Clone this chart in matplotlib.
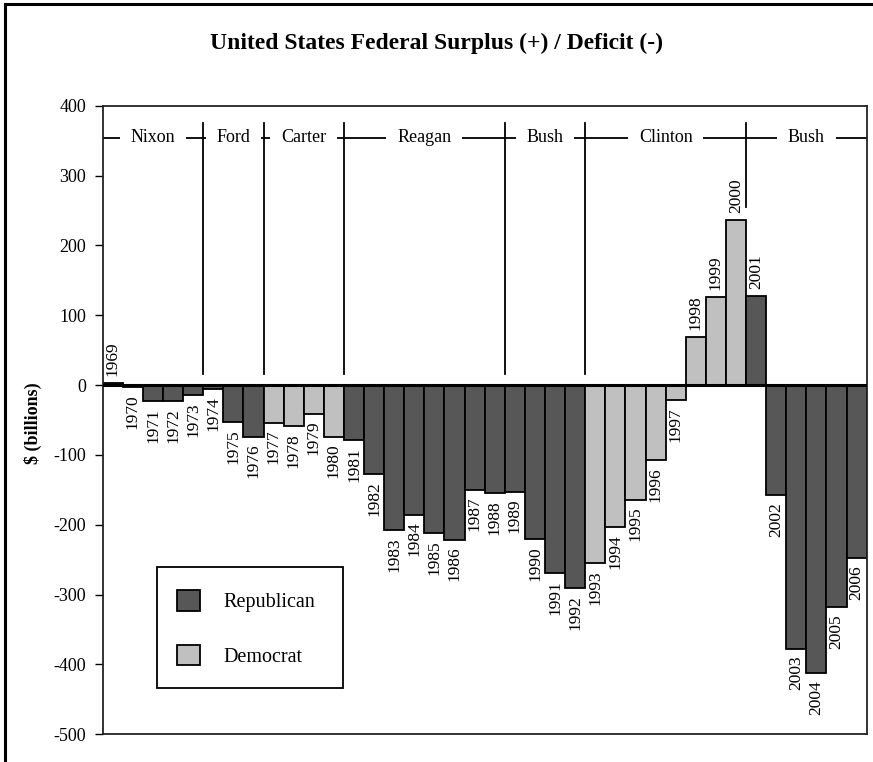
import matplotlib
matplotlib.use("Agg")
import matplotlib.pyplot as plt
from matplotlib.patches import Patch, Rectangle
from matplotlib.lines import Line2D

plt.rcParams["font.family"] = ["Liberation Serif", "DejaVu Serif"]
plt.rcParams["axes.unicode_minus"] = False

# Federal budget balance by fiscal year, billions of dollars
years = list(range(1969, 2007))
balance = [3.2, -2.8, -23.0, -23.4, -14.9, -6.1, -53.2, -73.7, -53.7, -59.2,
           -40.7, -73.8, -79.0, -128.0, -207.8, -185.4, -212.3, -221.2, -149.7,
           -155.2, -152.6, -221.0, -269.2, -290.3, -255.1, -203.2, -164.0,
           -107.4, -21.9, 69.3, 125.6, 236.2, 128.2, -157.8, -377.6, -412.7,
           -318.3, -248.2]
party = (["R"] * 8 + ["D"] * 4 + ["R"] * 12 + ["D"] * 8 + ["R"] * 6)

# Presidential terms: name, first and last fiscal year attributed
presidents = ["Nixon", "Ford", "Carter", "Reagan", "Bush", "Clinton", "Bush"]
term_start = [1969, 1974, 1977, 1981, 1989, 1993, 2001]
term_end = [1973, 1976, 1980, 1988, 1992, 2000, 2006]

party_colors = {"R": "#575757", "D": "#c0c0c0"}
party_names = {"R": "Republican", "D": "Democrat"}

W, H = 873, 762
fig = plt.figure(figsize=(W / 100, H / 100), dpi=100)
ax = fig.add_axes([102.7 / W, 1 - 734.3 / H, 764 / W, 628.6 / H])

x = list(range(len(years)))
ax.bar(x, balance, width=1.0, color=[party_colors[p] for p in party],
       edgecolor="black", linewidth=1.3, zorder=2)

ax.set_xlim(-0.5, len(years) - 0.5)
ax.set_ylim(-500, 400)
ax.set_yticks(range(-500, 401, 100))
ax.set_xticks([])
ax.tick_params(axis="y", direction="out", length=6, width=1.0,
               labelsize=13, pad=6)
for s in ax.spines.values():
    s.set_linewidth(1.3)
    s.set_color("#222222")

ax.axhline(0, color="black", linewidth=2.2, zorder=3)

# Year labels beside each bar end
for xi, yr, v in zip(x, years, balance):
    if v >= 0:
        ax.annotate(str(yr), (xi, v), xytext=(0, 5), textcoords="offset points",
                    rotation=90, ha="center", va="bottom", fontsize=12.5)
    else:
        ax.annotate(str(yr), (xi, v), xytext=(0, -5), textcoords="offset points",
                    rotation=90, ha="center", va="top", fontsize=12.5)

# Presidential band
band_y = 354
ax.plot([-0.5, len(years) - 0.5], [band_y, band_y], color="black",
        linewidth=1.3, zorder=1)
for name, s, e in zip(presidents, term_start, term_end):
    xs = years.index(s) - 0.5
    xe = years.index(e) + 0.5
    ax.text((xs + xe) / 2, band_y, name, ha="center", va="center",
            fontsize=13, zorder=4,
            bbox=dict(boxstyle="square,pad=0.6", facecolor="white",
                      edgecolor="none"))
    if s != years[0]:
        low = 16
        prev = balance[years.index(s) - 1]
        if prev > 0:
            low = 255
        ax.plot([xs, xs], [low, 375], color="black", linewidth=1.3, zorder=1)

# Legend entries with a plain rectangular frame
handles = [Patch(facecolor=party_colors[k], edgecolor="black", linewidth=1.3,
                 label=party_names[k]) for k in ["R", "D"]]
leg = ax.legend(handles=handles, loc="upper left",
                bbox_to_anchor=(0.0973, 0.2296), fontsize=14.5,
                frameon=False, borderpad=0, borderaxespad=0,
                handlelength=1.14, handleheight=1.2, handletextpad=1.14,
                labelspacing=1.62)
ax.add_patch(Rectangle((0.0711, 0.0737), 0.2434, 0.1926,
                       transform=ax.transAxes, facecolor="white",
                       edgecolor="black", linewidth=1.3, zorder=4))
leg.set_zorder(5)

fig.text(0.5, 1 - 43 / H, "United States Federal Surplus (+) / Deficit (-)",
         ha="center", va="center", fontsize=17, fontweight="bold")
fig.text(33 / W, 1 - 423 / H, "$ (billions)", rotation=90, ha="center",
         va="center", fontsize=13, fontweight="bold")

# Outer frame (top and left edges)
fig.add_artist(Line2D([5 / W, 1], [1 - 3.5 / H, 1 - 3.5 / H],
                      transform=fig.transFigure, color="black", linewidth=2.2))
fig.add_artist(Line2D([5 / W, 5 / W], [0, 1 - 3.5 / H],
                      transform=fig.transFigure, color="black", linewidth=2.2))

fig.savefig("out.png", dpi=100)
